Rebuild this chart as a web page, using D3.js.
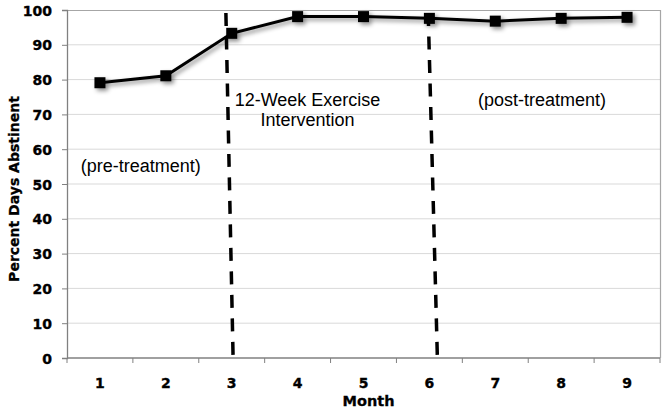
<!DOCTYPE html>
<html>
<head>
<meta charset="utf-8">
<script src="https://cdn.jsdelivr.net/npm/d3@7"></script>
<style>
  html, body { margin: 0; padding: 0; background: #fff; }
  svg { display: block; }
</style>
</head>
<body>
<svg id="chart" width="665" height="412"></svg>
<script>
// ---- data ----
const months = [1, 2, 3, 4, 5, 6, 7, 8, 9];
const abstinent = [79.1, 81.1, 93.3, 98.1, 98.1, 97.6, 96.8, 97.6, 97.9];
const yTicks = [0, 10, 20, 30, 40, 50, 60, 70, 80, 90, 100];
const yTitle = "Percent Days Abstinent";
const xTitle = "Month";
// phase dividers (hand-drawn, slightly slanted): month position at top and bottom
const dividerTop = [2.91, 5.98];
const dividerBottom = [3.02, 6.12];
const dividerValueTop = 100.6;
const dividerValueBottom = 0.9;
// annotations: text lines, month position (center), value at baseline
const annotationText = [["(pre-treatment)"], ["12-Week Exercise", "Intervention"], ["(post-treatment)"]];
const annotationMonth = [1.62, 4.15, 7.71];
const annotationValue = [53.4, 72.5, 72.5];

// ---- layout ----
const svg = d3.select("#chart");
const mLeft = 67, mRight = 660, mTop = 10, mBottom = 358;
const tickFont = "DejaVu Sans, Verdana, sans-serif";

const x = d3.scaleBand().domain(months).range([mLeft, mRight]).paddingInner(0).paddingOuter(0);
const xLin = d3.scaleLinear().domain([0.5, months.length + 0.5]).range([mLeft, mRight]);
const y = d3.scaleLinear().domain([0, 100]).range([mBottom, mTop]);

const defs = svg.append("defs");
const f = defs.append("filter").attr("id", "shadow").attr("x", "-20%").attr("y", "-50%").attr("width", "140%").attr("height", "200%");
f.append("feDropShadow").attr("dx", 2.5).attr("dy", 2.5).attr("stdDeviation", 2)
  .attr("flood-color", "#000").attr("flood-opacity", 0.45);

// gridlines
svg.append("g").selectAll("line").data(yTicks.filter(d => d > 0 && d < 100)).join("line")
  .attr("x1", mLeft).attr("x2", mRight)
  .attr("y1", d => y(d)).attr("y2", d => y(d))
  .attr("stroke", "#d9d9d9").attr("stroke-width", 1);

// plot frame (top & right)
svg.append("path")
  .attr("d", `M${mLeft},${mTop + 0.5} H${mRight + 0.5} V${mBottom}`)
  .attr("fill", "none").attr("stroke", "#a6a6a6").attr("stroke-width", 1.2);

// y axis
const yAxis = d3.axisLeft(y).tickValues(yTicks).tickSize(5).tickPadding(10);
const gy = svg.append("g").attr("transform", `translate(${mLeft},0)`).call(yAxis);
gy.attr("font-size", null).attr("font-family", null);
gy.select(".domain").attr("stroke", "#808080").attr("stroke-width", 1.3);
gy.selectAll(".tick line").attr("stroke", "#808080");
gy.selectAll(".tick text")
  .style("font-family", tickFont)
  .style("font-weight", "bold").style("font-size", "14px").attr("fill", "#000")
  .attr("stroke", "#000").attr("stroke-width", 0.35)
  .attr("dy", "0.36em");

// x axis: labels centered on bands, tick marks at band edges
const gx = svg.append("g").attr("transform", `translate(0,${mBottom})`);
gx.append("line").attr("x1", mLeft).attr("x2", mRight).attr("y1", 0).attr("y2", 0)
  .attr("stroke", "#808080").attr("stroke-width", 1.3);
const edges = months.map(m => x(m)).concat([x(months[months.length - 1]) + x.bandwidth()]);
gx.selectAll("line.edge").data(edges).join("line").attr("class", "edge")
  .attr("x1", d => d).attr("x2", d => d).attr("y1", 0).attr("y2", 5)
  .attr("stroke", "#808080");
gx.selectAll("text").data(months).join("text")
  .attr("x", d => x(d) + x.bandwidth() / 2).attr("y", 30)
  .attr("text-anchor", "middle")
  .style("font-family", tickFont)
  .style("font-weight", "bold").style("font-size", "14px")
  .attr("stroke", "#000").attr("stroke-width", 0.35)
  .text(d => d);

// axis titles
svg.append("text")
  .attr("transform", `translate(19,${(mTop + mBottom) / 2 + 5}) rotate(-90)`)
  .attr("text-anchor", "middle")
  .style("font-family", tickFont)
  .style("font-weight", "bold").style("font-size", "14px")
  .attr("stroke", "#000").attr("stroke-width", 0.3)
  .text(yTitle);
svg.append("text")
  .attr("x", (mLeft + mRight) / 2 + 5).attr("y", 406)
  .attr("text-anchor", "middle")
  .style("font-family", tickFont)
  .style("font-weight", "bold").style("font-size", "14.5px")
  .attr("stroke", "#000").attr("stroke-width", 0.3)
  .text(xTitle);

// dividers (drawn from bottom upward so dashes start at the axis)
svg.append("g").selectAll("line").data(dividerTop).join("line")
  .attr("x1", (d, i) => xLin(dividerBottom[i])).attr("y1", y(dividerValueBottom))
  .attr("x2", d => xLin(d)).attr("y2", y(dividerValueTop))
  .attr("stroke", "#000").attr("stroke-width", 3.5)
  .attr("stroke-dasharray", "13,10.5");

// annotations
const ann = svg.append("g")
  .style("font-family", "Liberation Sans, Arial, sans-serif")
  .style("font-size", "18px").attr("fill", "#000").attr("text-anchor", "middle");
annotationText.forEach((lines, i) => {
  const t = ann.append("text").attr("x", xLin(annotationMonth[i])).attr("y", y(annotationValue[i]));
  lines.forEach((ln, j) => {
    t.append("tspan").attr("x", xLin(annotationMonth[i])).attr("dy", j === 0 ? 0 : 20).text(ln);
  });
});

// data line and markers
const series = months.map((m, i) => ({ m, v: abstinent[i] }));
const g = svg.append("g").attr("filter", "url(#shadow)");
g.append("path").datum(series)
  .attr("d", d3.line().x(d => x(d.m) + x.bandwidth() / 2).y(d => y(d.v)))
  .attr("fill", "none").attr("stroke", "#000").attr("stroke-width", 3);
g.selectAll("rect").data(series).join("rect")
  .attr("x", d => x(d.m) + x.bandwidth() / 2 - 5.5)
  .attr("y", d => y(d.v) - 5.5)
  .attr("width", 11).attr("height", 11)
  .attr("fill", "#000");
</script>
</body>
</html>
